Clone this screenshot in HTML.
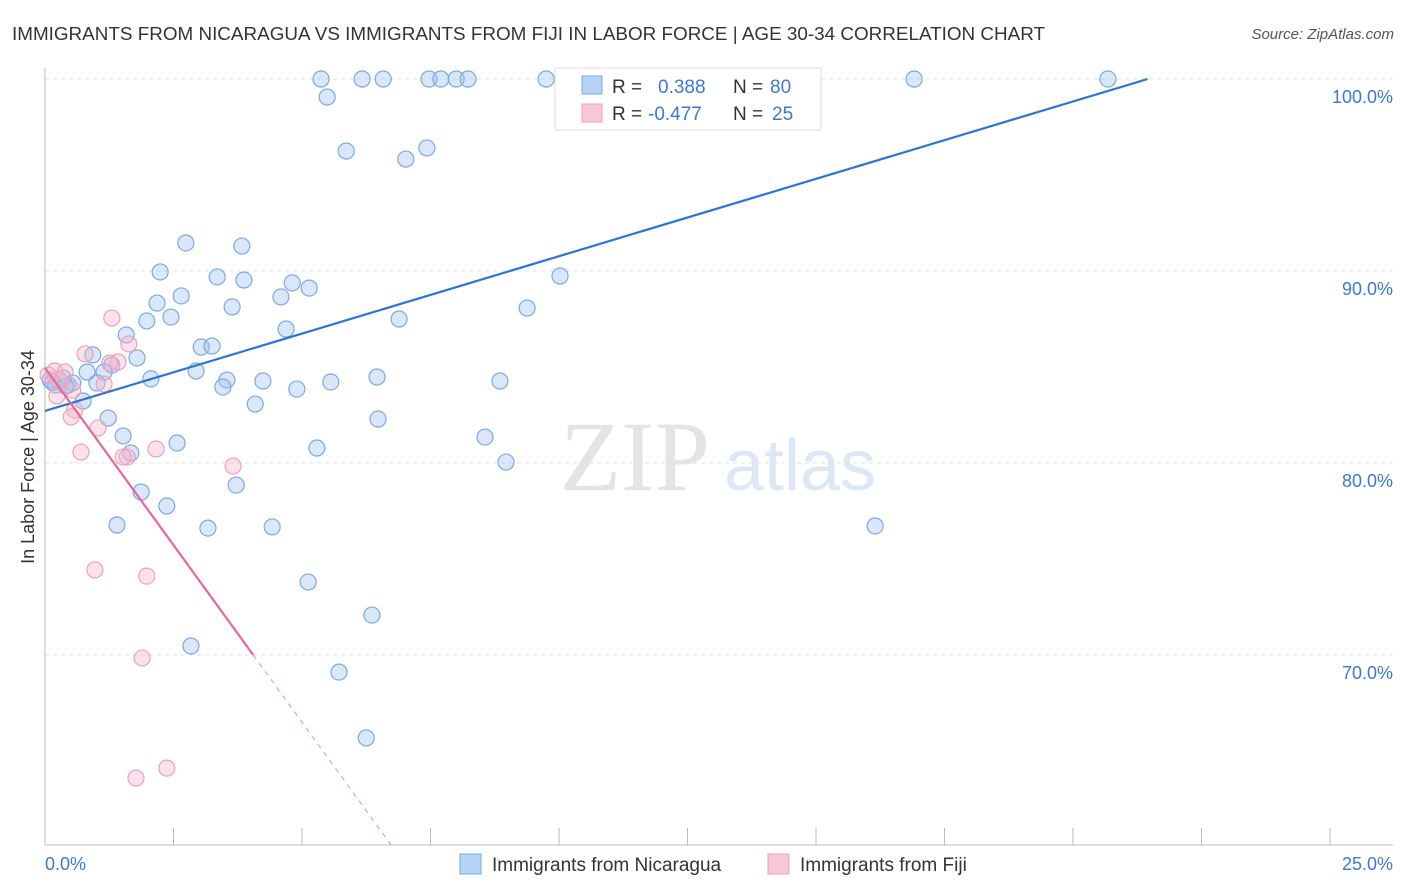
<!DOCTYPE html>
<html><head><meta charset="utf-8"><style>
body{margin:0;background:#fff;font-family:"Liberation Sans",sans-serif;}
svg{display:block}
</style></head><body>
<svg width="1406" height="892" viewBox="0 0 1406 892">
<text x="12" y="40" font-size="18" fill="#333" textLength="1033" lengthAdjust="spacingAndGlyphs">IMMIGRANTS FROM NICARAGUA VS IMMIGRANTS FROM FIJI IN LABOR FORCE | AGE 30-34 CORRELATION CHART</text>
<text x="1394" y="39" font-size="15" fill="#555" font-style="italic" text-anchor="end">Source: ZipAtlas.com</text>
<text x="635" y="490" font-size="100" fill="#e4e4e4" font-family="Liberation Serif,serif" text-anchor="middle">ZIP</text>
<text x="800" y="490" font-size="72" fill="#dce8f6" text-anchor="middle">atlas</text>
<g id="grid"></g><g id="axes"></g><g id="pts"></g><g id="lines"></g>
<text transform="translate(34,457) rotate(-90)" font-size="18" fill="#333" text-anchor="middle">In Labor Force | Age 30-34</text>
<g>
<rect x="555" y="68" width="266" height="62" fill="#fff" stroke="#ddd"/>
<rect x="582" y="76" width="20" height="18" fill="#b7d3f5" stroke="#7aa9e4"/>
<rect x="582" y="104" width="20" height="18" fill="#f9c8d8" stroke="#eea0b8"/>
<text x="612" y="93" font-size="19" fill="#333">R = </text><text x="658" y="93" font-size="19" fill="#3b78d8">0.388</text>
<text x="733" y="93" font-size="19" fill="#333">N = </text><text x="770" y="93" font-size="19" fill="#3b78d8">80</text>
<text x="612" y="120" font-size="19" fill="#333">R = </text><text x="648" y="120" font-size="19" fill="#3b78d8">-0.477</text>
<text x="733" y="120" font-size="19" fill="#333">N = </text><text x="772" y="120" font-size="19" fill="#3b78d8">25</text>
</g>
<g>
<rect x="460" y="854" width="21" height="20" fill="#b7d3f5" stroke="#7aa9e4"/>
<text x="492" y="871" font-size="19" fill="#333">Immigrants from Nicaragua</text>
<rect x="768" y="854" width="21" height="20" fill="#f9c8d8" stroke="#eea0b8"/>
<text x="800" y="871" font-size="19" fill="#333">Immigrants from Fiji</text>
</g>
</svg>
<script>
const xTicks=[0,2.5,5,7.5,10,12.5,15,17.5,20,22.5,25];
const yTicks=[100,90,80,70];
const yTickLabels=["100.0%","90.0%","80.0%","70.0%"];
const blueX=[5.37,6.17,6.58,7.47,7.70,8.00,8.23,9.75,10.74,16.91,20.68,5.49,5.86,7.02,7.43,2.74,3.83,2.24,3.35,3.87,4.81,5.14,2.65,2.18,4.59,2.45,3.64,1.98,4.69,1.58,3.04,3.25,0.93,1.79,1.30,0.82,1.15,2.94,2.06,3.54,4.24,3.46,4.90,5.56,6.46,8.85,9.38,10.02,6.89,0.10,0.21,0.35,0.45,0.54,1.01,0.74,1.23,4.09,6.48,1.52,2.57,5.29,8.56,8.97,1.67,3.72,1.87,2.37,1.40,3.17,4.42,16.15,5.12,6.36,2.84,5.72,6.25,10.41,0.15,0.4];
const blueY=[100,100,100,100,100,100,100,100,99.84,100,100,99.06,96.25,95.83,96.41,91.46,91.30,89.95,89.69,89.53,89.38,89.11,88.70,88.33,88.65,87.60,88.13,87.40,86.98,86.67,86.04,86.09,85.63,85.47,85.10,84.74,84.74,84.79,84.38,84.32,84.27,83.96,83.85,84.22,84.48,84.27,88.07,89.74,87.50,84.32,84.06,84.43,84.06,84.17,84.17,83.23,82.34,83.07,82.29,81.41,81.04,80.78,81.35,80.05,80.52,78.85,78.49,77.76,76.77,76.61,76.67,76.72,73.80,72.08,70.47,69.11,65.68,98.49,84.2,84.0];
const pinkX=[1.30,1.63,0.78,1.42,1.26,0.19,0.39,0.27,1.15,0.54,0.23,0.58,0.51,1.03,0.70,2.16,1.60,1.52,3.66,0.97,1.98,1.89,1.77,2.37,0.06];
const pinkY=[87.55,86.20,85.68,85.26,85.20,84.79,84.74,84.32,84.11,83.80,83.49,82.76,82.40,81.82,80.57,80.73,80.31,80.31,79.84,74.43,74.11,69.84,63.59,64.11,84.58];
const blueFit=[82.71,0.806];
const pinkFit=[84.95,-3.69];
const X=v=>45+v*51.4, Y=v=>79+(100-v)*19.2;
const NS="http://www.w3.org/2000/svg";
function mk(p,t,a){const e=document.createElementNS(NS,t);for(const k in a)e.setAttribute(k,a[k]);p.appendChild(e);return e;}
const grid=document.getElementById('grid'),axes=document.getElementById('axes'),pts=document.getElementById('pts'),lines=document.getElementById('lines');
yTicks.forEach((t,i)=>{
 const l=mk(grid,'line',{x1:45,x2:1393,y1:Y(t),y2:Y(t),stroke:'#e2e2e2','stroke-dasharray':'4,4'});
 
 
 const tx=mk(axes,'text',{x:1393,y:Y(t)+24,'font-size':18,fill:'#3b78d8','text-anchor':'end'});
 tx.textContent=yTickLabels[i];
 
 
});
const ax=mk(axes,'line',{x1:45,x2:1393,y1:845,y2:845,stroke:'#bbb'});


const ay=mk(axes,'line',{x1:45,x2:45,y1:68,y2:845,stroke:'#bbb'});


xTicks.forEach(t=>{
 const l=mk(axes,'line',{x1:X(t),x2:X(t),y1:828,y2:845,stroke:'#bbb'});
 
 
});
const xl0=mk(axes,'text',{x:45,y:870,'font-size':18,fill:'#3b78d8'});xl0.textContent=xTicks[0].toFixed(1)+'%';


const xl1=mk(axes,'text',{x:1393,y:870,'font-size':18,fill:'#3b78d8','text-anchor':'end'});xl1.textContent=xTicks[xTicks.length-1].toFixed(1)+'%';


blueX.forEach((v,i)=>{
 const c=mk(pts,'circle',{cx:X(v),cy:Y(blueY[i]),r:8,fill:'rgba(160,196,240,0.4)',stroke:'#7aa9e4','stroke-width':1.2});
 
 
});
pinkX.forEach((v,i)=>{
 const c=mk(pts,'circle',{cx:X(v),cy:Y(pinkY[i]),r:8,fill:'rgba(246,180,205,0.4)',stroke:'#eea0b8','stroke-width':1.2});
 
 
});
const bx1=(100-blueFit[0])/blueFit[1];
const bl=mk(lines,'line',{x1:X(0),y1:Y(blueFit[0]),x2:X(bx1),y2:Y(100),stroke:'#2b74d8','stroke-width':2.2});


const px1=(70-pinkFit[0])/pinkFit[1], px2=(60.1-pinkFit[0])/pinkFit[1];
const pl=mk(lines,'line',{x1:X(0),y1:Y(pinkFit[0]),x2:X(px1),y2:Y(70),stroke:'#e8679a','stroke-width':2.2});


const pd=mk(lines,'line',{x1:X(px1),y1:Y(70),x2:X(px2),y2:Y(60.1),stroke:'#e8a0bb','stroke-width':1.2,'stroke-dasharray':'5,5'});


</script>
</body></html>
